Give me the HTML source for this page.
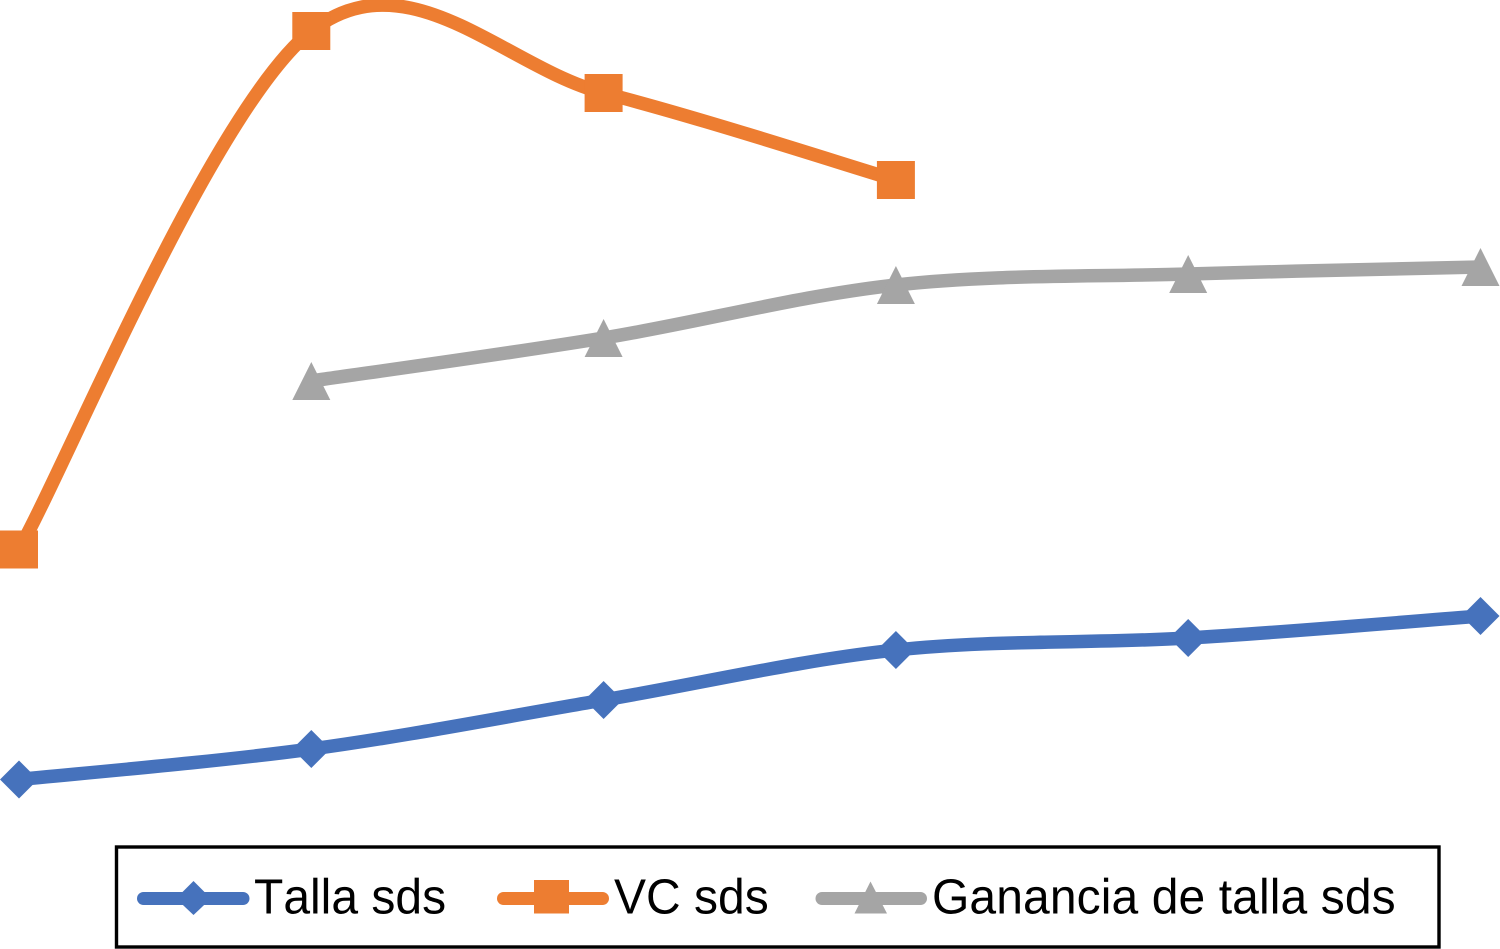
<!DOCTYPE html>
<html lang="es">
<head>
<meta charset="utf-8">
<title>Talla, VC y ganancia de talla</title>
<style>
html,body{margin:0;padding:0;background:#fff;}
body{width:1500px;height:949px;overflow:hidden;}
svg{display:block;}
text{font-family:"Liberation Sans",Arial,sans-serif;font-size:48px;fill:#000;font-kerning:none;text-rendering:geometricPrecision;}
</style>
</head>
<body>
<svg id="chart" xmlns="http://www.w3.org/2000/svg" width="1500" height="949" viewBox="0 0 1500 949">
  <rect width="1500" height="949" fill="#fff"/>
  <g id="plot"></g>
  <g>
    <rect x="116.5" y="847" width="1322.5" height="100" fill="#fff" stroke="#000" stroke-width="3.4"/>
    <g>
      <line x1="143.5" y1="898.5" x2="243" y2="898.5" stroke="#4672BC" stroke-width="13" stroke-linecap="round"/>
      <polygon points="193.5,881 211,898.5 193.5,915 176,898.5" fill="#4672BC"/>
      <text transform="translate(254,913.5) scale(1,1.03)">Talla sds</text>
    </g>
    <g>
      <line x1="503.5" y1="898.5" x2="602.5" y2="898.5" stroke="#ED7D31" stroke-width="13" stroke-linecap="round"/>
      <rect x="534" y="880" width="35" height="33.5" fill="#ED7D31"/>
      <text transform="translate(614,913.5) scale(1,1.03)">VC sds</text>
    </g>
    <g>
      <line x1="822" y1="898.5" x2="920.5" y2="898.5" stroke="#A5A5A5" stroke-width="13" stroke-linecap="round"/>
      <polygon points="870.5,881.5 887,913.5 854.5,913.5" fill="#A5A5A5"/>
      <text transform="translate(932,913.5) scale(1,1.03)" letter-spacing="0.1">Ganancia de talla sds</text>
    </g>
  </g>
</svg>
<script>
// Chart data (SD scores; no axis printed in the source)
const categories = [0, 1, 2, 3, 4, 5];
const tallaValues = [-2.795, -2.49, -2.00, -1.50, -1.38, -1.16];
const vcValues = [-0.495, 4.69, 4.07, 3.20, null, null];
const gananciaValues = [null, 1.19, 1.62, 2.15, 2.26, 2.33];

function xScale(c) { return 19 + c * 292.3; }
function yScale(v) { return 500 - v * 100; }

const NS = 'http://www.w3.org/2000/svg';
const plot = document.getElementById('plot');

function smoothPath(pts) {
  let d = 'M' + pts[0][0] + ' ' + pts[0][1];
  for (let i = 0; i < pts.length - 1; i++) {
    const p0 = pts[Math.max(i - 1, 0)];
    const p1 = pts[i];
    const p2 = pts[i + 1];
    const p3 = pts[Math.min(i + 2, pts.length - 1)];
    const c1x = p1[0] + (p2[0] - p0[0]) / 6;
    const c1y = p1[1] + (p2[1] - p0[1]) / 6;
    const c2x = p2[0] - (p3[0] - p1[0]) / 6;
    const c2y = p2[1] - (p3[1] - p1[1]) / 6;
    d += ' C' + c1x + ' ' + c1y + ' ' + c2x + ' ' + c2y + ' ' + p2[0] + ' ' + p2[1];
  }
  return d;
}

function drawMarker(kind, x, y, color) {
  const r = 19;
  let el;
  if (kind === 'square') {
    el = document.createElementNS(NS, 'rect');
    el.setAttribute('x', x - r);
    el.setAttribute('y', y - r);
    el.setAttribute('width', 2 * r);
    el.setAttribute('height', 2 * r);
  } else if (kind === 'diamond') {
    el = document.createElementNS(NS, 'polygon');
    el.setAttribute('points', [[x, y - r], [x + r, y], [x, y + r], [x - r, y]].join(' '));
  } else {
    el = document.createElementNS(NS, 'polygon');
    el.setAttribute('points', [[x, y - r], [x + r, y + r], [x - r, y + r]].join(' '));
  }
  el.setAttribute('fill', color);
  
  
  plot.appendChild(el);
}

function drawSeries(values, color, kind, name) {
  const pts = [];
  values.forEach(function (v, i) {
    if (v !== null) pts.push([xScale(categories[i]), yScale(v)]);
  });
  const path = document.createElementNS(NS, 'path');
  path.setAttribute('d', smoothPath(pts));
  path.setAttribute('fill', 'none');
  path.setAttribute('stroke', color);
  path.setAttribute('stroke-width', '13.5');
  path.setAttribute('stroke-linejoin', 'round');
  
  
  plot.appendChild(path);
  pts.forEach(function (p) { drawMarker(kind, p[0], p[1], color); });
}

drawSeries(tallaValues, '#4672BC', 'diamond', 'series-talla-sds');
drawSeries(vcValues, '#ED7D31', 'square', 'series-vc-sds');
drawSeries(gananciaValues, '#A5A5A5', 'triangle', 'series-ganancia-de-talla-sds');
</script>
</body>
</html>
